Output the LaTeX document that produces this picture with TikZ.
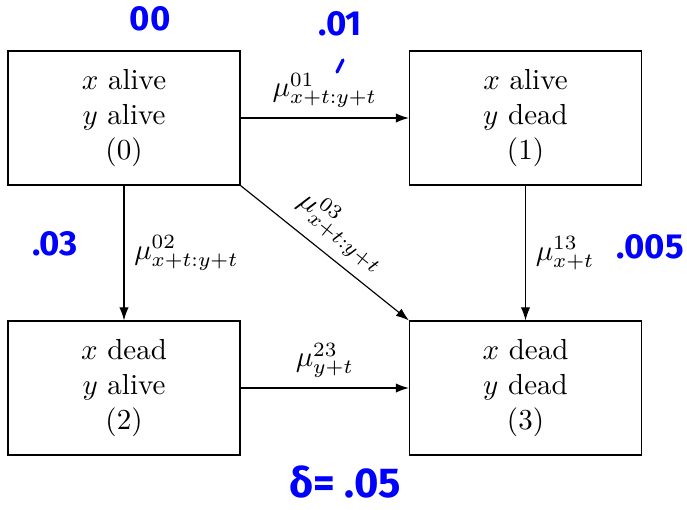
\documentclass[tikz,border=0pt]{standalone}
\usepackage{fontspec}
\newfontfamily\handfont{Fira Sans}
\usetikzlibrary{arrows.meta}
\begin{document}
\begin{tikzpicture}[x=0.3448pt,y=-0.3448pt,
  state/.style={draw, minimum width=80pt, minimum height=46.2pt, align=center, inner sep=0pt},
  trans/.style={-{Latex[length=4.5pt,width=3.2pt]}},
  hand/.style={text=blue, font=\handfont\bfseries\large, inner sep=0pt}]
\useasboundingbox (0,0) rectangle (687,509);
\node[state] (s0) at (124,118) {$x$ alive\\ $y$ alive\\ (0)};
\node[state] (s1) at (525.5,118) {$x$ alive\\ $y$ dead\\ (1)};
\node[state] (s2) at (124,388) {$x$ dead\\ $y$ alive\\ (2)};
\node[state] (s3) at (525.5,388) {$x$ dead\\ $y$ dead\\ (3)};
\draw[trans] (s0) -- node[above] (l01) {$\mu^{01}_{x+t:y+t}$} (s1);
\draw[trans] (s0) -- node[right] (l02) {$\mu^{02}_{x+t:y+t}$} (s2);
\draw[trans] (s0.south east) -- node[sloped, above, pos=0.5] (l03) {$\mu^{03}_{x+t:y+t}$} (s3.north west);
\draw[trans] (s1) -- node[right] (l13) {$\mu^{13}_{x+t}$} (s3);
\draw[trans] (s2) -- node[above] (l23) {$\mu^{23}_{y+t}$} (s3);
\node[hand] (a00) at (150,19) {00};
\node[hand] (a01) at (340,24) {.01};
\coordinate (m1) at (337,72);
\coordinate (m2) at (343,60);
\draw[blue, line width=1.1pt, line cap=round] (m1) -- (m2);
\node[hand] (a03) at (55,244) {.03};
\node[hand] (a005) at (650,247) {.005};
\node[hand, font=\handfont\bfseries\Large] (ad) at (345,482) {δ= .05};
\end{tikzpicture}
\end{document}
